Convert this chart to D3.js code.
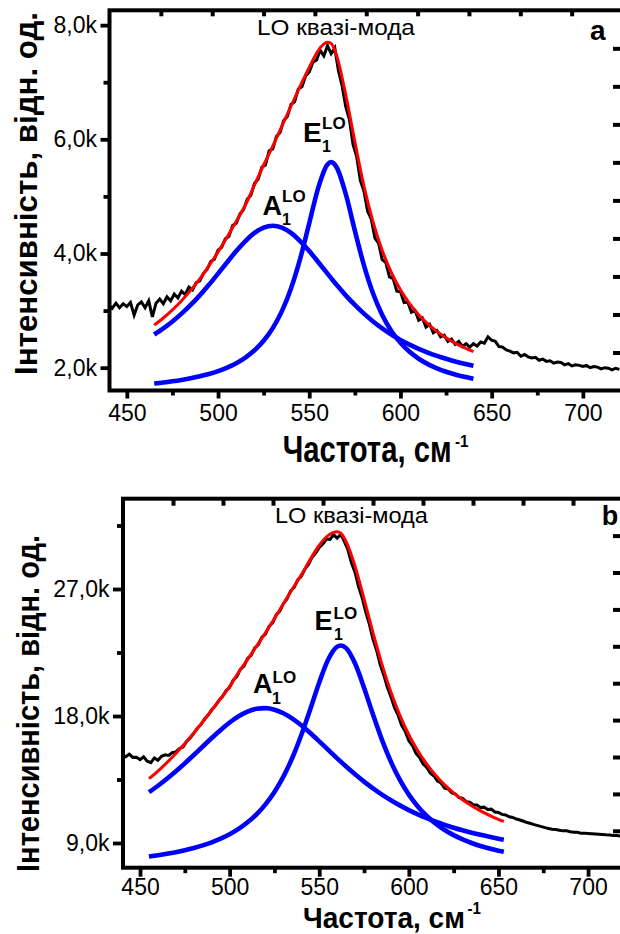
<!DOCTYPE html>
<html>
<head>
<meta charset="utf-8">
<script src="https://cdn.jsdelivr.net/npm/d3@7/dist/d3.min.js"></script>
<style>
  html, body { margin: 0; padding: 0; background: #fff; }
  svg { display: block; font-family: "Liberation Sans", Arial, sans-serif; }
</style>
</head>
<body>
<svg id="chart" width="620" height="934"></svg>
<script>
// ---------- Panel a: LO quasi-mode, lower intensity ----------
const rawWavenumberA = d3.range(440, 721, 2);
const rawIntensityA = [
  3090, 3040, 3130, 3050, 3120, 3070, 3140, 2920, 3100, 3150,
  3050, 3170, 2890, 3130, 3200, 3120, 3240, 3170, 3290, 3220,
  3340, 3280, 3410, 3360, 3490, 3520, 3650, 3720, 3860, 3900,
  4060, 4110, 4260, 4300, 4490, 4530, 4690, 4770, 4950, 5020,
  5230, 5300, 5510, 5550, 5800, 5830, 6050, 6120, 6330, 6400,
  6610, 6660, 6880, 6920, 7110, 7180, 7350, 7390, 7560, 7460,
  7640, 7500, 7600, 7200, 6940, 6570, 6350, 5910, 5700, 5280,
  5090, 4740, 4600, 4270, 4180, 3890, 3840, 3590, 3560, 3340,
  3330, 3140, 3150, 2970, 3000, 2830, 2870, 2710, 2760, 2610,
  2650, 2540, 2570, 2460, 2500, 2410, 2460, 2370, 2420, 2360,
  2420, 2380, 2450, 2430, 2540, 2480, 2460, 2370, 2360, 2310,
  2290, 2260, 2270, 2200, 2230, 2190, 2170, 2180, 2130, 2150,
  2110, 2120, 2080, 2100, 2090, 2050, 2070, 2030, 2050, 2040,
  2020, 2040, 2000, 2020, 2010, 1980, 2000, 1990, 1960, 1990,
  1970
];
const fitWavenumberA = [465, 470, 475, 480, 485, 490, 495, 500, 505, 510, 515, 520, 525, 530, 535,
  540, 545, 550, 555, 560, 562, 565, 570, 575, 580, 585, 590, 595, 600, 605, 610, 615, 620, 625,
  630, 635, 640];
const fitTotalA = [2746, 2870, 3012, 3173, 3354, 3557, 3782, 4028, 4290, 4563, 4850, 5200, 5550,
  5880, 6230, 6580, 6930, 7260, 7560, 7700, 7680, 7470, 6780, 5960, 5180, 4549, 4054, 3667, 3363,
  3122, 2927, 2768, 2636, 2525, 2431, 2351, 2281];
const peakA1A = [2581, 2688, 2809, 2946, 3099, 3267, 3451, 3647, 3847, 4042, 4218, 4361, 4454,
  4487, 4454, 4361, 4218, 4042, 3847, 3647, 3568, 3451, 3267, 3099, 2946, 2809, 2688, 2581, 2486,
  2403, 2329, 2264, 2206, 2155, 2109, 2069, 2032];
const peakE1A = [1723, 1740, 1761, 1785, 1813, 1848, 1889, 1939, 2001, 2079, 2178, 2305, 2472,
  2693, 2990, 3387, 3905, 4530, 5159, 5560, 5600, 5511, 5043, 4400, 3791, 3298, 2924, 2644, 2435,
  2277, 2156, 2062, 1988, 1928, 1880, 1840, 1807];
const yTicksA = [2000, 4000, 6000, 8000];
const yTickLabelsA = ["2,0k", "4,0k", "6,0k", "8,0k"];
const yMinorA = [3000, 5000, 7000];

// ---------- Panel b: LO quasi-mode, higher intensity ----------
const rawWavenumberB = d3.range(440, 721, 2);
const rawIntensityB = [
  15200, 15110, 15300, 15070, 15080, 14910, 15110, 14800, 14690, 15030,
  14860, 15140, 15250, 15200, 15400, 15460, 15700, 15800, 16200, 16450,
  16770, 17140, 17400, 17800, 18060, 18450, 18720, 19100, 19380, 19800,
  20040, 20540, 20800, 21300, 21540, 22080, 22300, 22820, 23050, 23580,
  23800, 24360, 24600, 25170, 25440, 25960, 26300, 26850, 27110, 27640,
  27900, 28410, 28740, 29240, 29540, 29950, 30190, 30540, 30520, 30840,
  30600, 30880, 30380, 29780, 28840, 28170, 27140, 26360, 25340, 24500,
  23440, 22660, 21640, 20910, 20040, 19360, 18590, 18060, 17340, 16910,
  16240, 15910, 15340, 15060, 14590, 14350, 13940, 13750, 13390, 13250,
  12890, 12820, 12540, 12460, 12220, 12170, 11930, 11900, 11700, 11700,
  11510, 11540, 11380, 11400, 11200, 11160, 11030, 10990, 10860, 10810,
  10700, 10630, 10540, 10450, 10380, 10300, 10230, 10160, 10090, 10030,
  9980, 9950, 9900, 9860, 9860, 9800, 9770, 9760, 9700, 9700,
  9680, 9660, 9640, 9620, 9600, 9580, 9570, 9530, 9530, 9490,
  9500
];
const fitWavenumberB = [455, 460, 465, 470, 475, 480, 485, 490, 495, 500, 505, 510, 515, 520, 525,
  530, 535, 540, 545, 550, 555, 560, 562, 565, 570, 575, 580, 585, 590, 595, 600, 605, 610, 615,
  620, 625, 630, 635, 640, 645, 650, 653];
const fitTotalB = [13557, 14101, 14696, 15345, 16045, 16792, 17582, 18403, 19239, 20077, 21100,
  22000, 22950, 23900, 24900, 25950, 27000, 28000, 29100, 30100, 30800, 31050, 30950, 30350, 28600,
  26300, 23900, 21655, 19698, 18047, 16673, 15533, 14585, 13793, 13122, 12555, 12066, 11645, 11281,
  10960, 10679, 10525];
const peakA1B = [12604, 13059, 13552, 14083, 14646, 15236, 15840, 16441, 17016, 17540, 17983,
  18314, 18511, 18557, 18449, 18196, 17817, 17339, 16791, 16202, 15598, 14998, 14763, 14417, 13866,
  13350, 12872, 12433, 12031, 11666, 11334, 11033, 10760, 10513, 10288, 10085, 9899, 9731, 9578,
  9437, 9309, 9238];
const peakE1B = [8040, 8129, 8231, 8349, 8486, 8643, 8829, 9049, 9310, 9624, 10004, 10467, 11035,
  11740, 12617, 13704, 15044, 16651, 18482, 20376, 21998, 22913, 23000, 22806, 21716, 20005, 18104,
  16309, 14754, 13468, 12426, 11587, 10912, 10367, 9921, 9557, 9254, 9001, 8790, 8610, 8457, 8374];
const yTicksB = [9000, 18000, 27000];
const yTickLabelsB = ["9,0k", "18,0k", "27,0k"];
const yMinorB = [13500, 22500, 31500];

// ---------- Shared axis values and texts ----------
const xTicks = [450, 500, 550, 600, 650, 700];
const xTickLabels = ["450", "500", "550", "600", "650", "700"];
const xMinor = [475, 525, 575, 625, 675];
const yTitle = "Інтенсивність, відн. од.";
const xTitle = "Частота, см";
const xTitleSup = "-1";
const plotTitle = "LO квазі-мода";

// ---------- Layout ----------
const FONT = '"Liberation Sans", Arial, sans-serif';
const panels = [
  {
    id: "a", raw: [rawWavenumberA, rawIntensityA], fitX: fitWavenumberA,
    total: fitTotalA, a1: peakA1A, e1: peakE1A,
    yTicks: yTicksA, yLabels: yTickLabelsA, yMinor: yMinorA,
    left: 109.5, right: 623, top: 10.3, bottom: 390.5,
    xDomain: [440.5, 722], yDomain: [1600, 8260],
    yMajorLen: 9, yMinorLen: 6, xMajorLen: 8, xMinorLen: 5, xPad: 6, topLen: 6,
    yTitle: { x: 37, y: 193.5, size: 32, len: 363 },
    xTitle: { x: 282.7, y: 461.7, size: 37, len: 169, supX: 455, supY: 447 },
    title: { x: 257, y: 35, len: 158 },
    letter: { x: 590, y: 40, size: 28 },
    E: { x: 303, y: 141.7, size: 28, subX: 322, subY: 151.7, supX: 322, supY: 128.5 },
    A: { x: 262.5, y: 215, size: 27, subX: 282, subY: 225, supX: 282, supY: 201.7 }
  },
  {
    id: "b", raw: [rawWavenumberB, rawIntensityB], fitX: fitWavenumberB,
    total: fitTotalB, a1: peakA1B, e1: peakE1B,
    yTicks: yTicksB, yLabels: yTickLabelsB, yMinor: yMinorB,
    left: 123, right: 623, top: 498.7, bottom: 867.7,
    xDomain: [440.5, 719.5], yDomain: [7250, 33400],
    yMajorLen: 10, yMinorLen: 6, xMajorLen: 9, xMinorLen: 5.5, xPad: 2, topLen: 7,
    yTitle: { x: 39, y: 703.5, size: 31, len: 337 },
    xTitle: { x: 303, y: 927.5, size: 30, len: 162, supX: 467.5, supY: 914 },
    title: { x: 275, y: 523.3, len: 153 },
    letter: { x: 601.7, y: 525, size: 27 },
    E: { x: 314.5, y: 630, size: 27, subX: 334, subY: 640, supX: 333.5, supY: 619 },
    A: { x: 253, y: 693.3, size: 27, subX: 272, subY: 704, supX: 272.5, supY: 683 }
  }
];

const svg = d3.select("#chart");

function styleAxis(sel, width) {
  sel.select(".domain").remove();
  sel.attr("font-family", FONT).attr("font-size", 23);
  sel.selectAll(".tick line").attr("stroke", "#000").attr("stroke-width", width);
  sel.selectAll(".tick text").attr("fill", "#000");
}

// Text squeezed or stretched along its baseline to a set length.
function fittedText(parent, str, opts) {
  const t = parent.append("text")
    .attr("font-family", FONT)
    .attr("font-size", opts.size)
    .attr("font-weight", opts.bold ? "bold" : "normal")
    .attr("text-anchor", opts.anchor || "start")
    .text(str);
  const natural = t.node().getComputedTextLength() || opts.len;
  const sx = opts.len / natural;
  const rot = opts.rotate ? ` rotate(${opts.rotate})` : "";
  t.attr("transform", `translate(${opts.x},${opts.y})${rot} scale(${sx},1)`);
  return t;
}

function drawPanel(p) {
  const g = svg.append("g").attr("class", "panel-" + p.id);
  const x = d3.scaleLinear().domain(p.xDomain).range([p.left, p.right]);
  const y = d3.scaleLinear().domain(p.yDomain).range([p.bottom, p.top]);

  const clipId = "clip-" + p.id;
  g.append("clipPath").attr("id", clipId)
    .append("rect")
    .attr("x", p.left).attr("y", p.top)
    .attr("width", p.right - p.left).attr("height", p.bottom - p.top);

  const plot = g.append("g").attr("clip-path", `url(#${clipId})`);
  const rough = d3.line().x(d => x(d[0])).y(d => y(d[1]));
  const smooth = d3.line().x(d => x(d[0])).y(d => y(d[1])).curve(d3.curveMonotoneX);

  plot.append("path").datum(d3.zip(p.raw[0], p.raw[1]))
    .attr("d", rough).attr("fill", "none")
    .attr("stroke", "#000").attr("stroke-width", 3).attr("stroke-linejoin", "miter");

  plot.append("path").datum(d3.zip(p.fitX, p.total))
    .attr("d", smooth).attr("fill", "none")
    .attr("stroke", "#ff0000").attr("stroke-width", 3);

  [p.a1, p.e1].forEach(series => {
    plot.append("path").datum(d3.zip(p.fitX, series))
      .attr("d", smooth).attr("fill", "none")
      .attr("stroke", "#0000ff").attr("stroke-width", 4.6);
  });

  // bottom axis: major with labels, minor without
  g.append("g").attr("transform", `translate(0,${p.bottom})`)
    .call(d3.axisBottom(x).tickValues(xTicks)
      .tickFormat((d, i) => xTickLabels[i]).tickSize(p.xMajorLen).tickPadding(p.xPad))
    .call(s => styleAxis(s, 3.8));
  g.append("g").attr("transform", `translate(0,${p.bottom})`)
    .call(d3.axisBottom(x).tickValues(xMinor).tickFormat("").tickSize(p.xMinorLen))
    .call(s => styleAxis(s, 3.8));

  // left axis
  g.append("g").attr("transform", `translate(${p.left},0)`)
    .call(d3.axisLeft(y).tickValues(p.yTicks)
      .tickFormat((d, i) => p.yLabels[i]).tickSize(p.yMajorLen).tickPadding(3.5))
    .call(s => styleAxis(s, 3.8));
  g.append("g").attr("transform", `translate(${p.left},0)`)
    .call(d3.axisLeft(y).tickValues(p.yMinor).tickFormat("").tickSize(p.yMinorLen))
    .call(s => styleAxis(s, 3.8));

  // top and right frame axes, inward ticks in ten equal divisions
  const topScale = d3.scaleLinear().domain([0, 10]).range([p.left, p.right]);
  const rightScale = d3.scaleLinear().domain([0, 10]).range([p.bottom, p.top]);
  g.append("g").attr("transform", `translate(0,${p.top})`)
    .call(d3.axisTop(topScale).tickValues(d3.range(1, 10)).tickFormat("").tickSize(-p.topLen))
    .call(s => styleAxis(s, 4));
  g.append("g").attr("transform", `translate(${p.right},0)`)
    .call(d3.axisRight(rightScale).tickValues(d3.range(1, 10)).tickFormat("").tickSize(-10))
    .call(s => styleAxis(s, 4));

  g.append("rect")
    .attr("x", p.left).attr("y", p.top)
    .attr("width", p.right - p.left).attr("height", p.bottom - p.top)
    .attr("fill", "none").attr("stroke", "#000").attr("stroke-width", 4);

  // axis titles
  fittedText(g, yTitle, { x: p.yTitle.x, y: p.yTitle.y, size: p.yTitle.size, bold: true,
    len: p.yTitle.len, anchor: "middle", rotate: -90 });
  fittedText(g, xTitle, { x: p.xTitle.x, y: p.xTitle.y, size: p.xTitle.size, bold: true,
    len: p.xTitle.len });
  fittedText(g, xTitleSup, { x: p.xTitle.supX, y: p.xTitle.supY, size: 17, bold: true, len: 13.5 });

  // plot title and panel letter
  fittedText(g, plotTitle, { x: p.title.x, y: p.title.y, size: 22, len: p.title.len });
  g.append("text")
    .attr("x", p.letter.x).attr("y", p.letter.y)
    .attr("font-family", FONT).attr("font-weight", "bold").attr("font-size", p.letter.size)
    .text(p.id);

  // mode labels: letter with stacked sub- and superscripts
  [["E", p.E], ["A", p.A]].forEach(([sym, pos]) => {
    g.append("text").attr("x", pos.x).attr("y", pos.y)
      .attr("font-family", FONT).attr("font-weight", "bold").attr("font-size", pos.size).text(sym);
    g.append("text").attr("x", pos.supX).attr("y", pos.supY)
      .attr("font-family", FONT).attr("font-weight", "bold").attr("font-size", 17).text("LO");
    g.append("text").attr("x", pos.subX).attr("y", pos.subY)
      .attr("font-family", FONT).attr("font-weight", "bold").attr("font-size", 16).text("1");
  });
}

panels.forEach(drawPanel);
</script>
</body>
</html>
